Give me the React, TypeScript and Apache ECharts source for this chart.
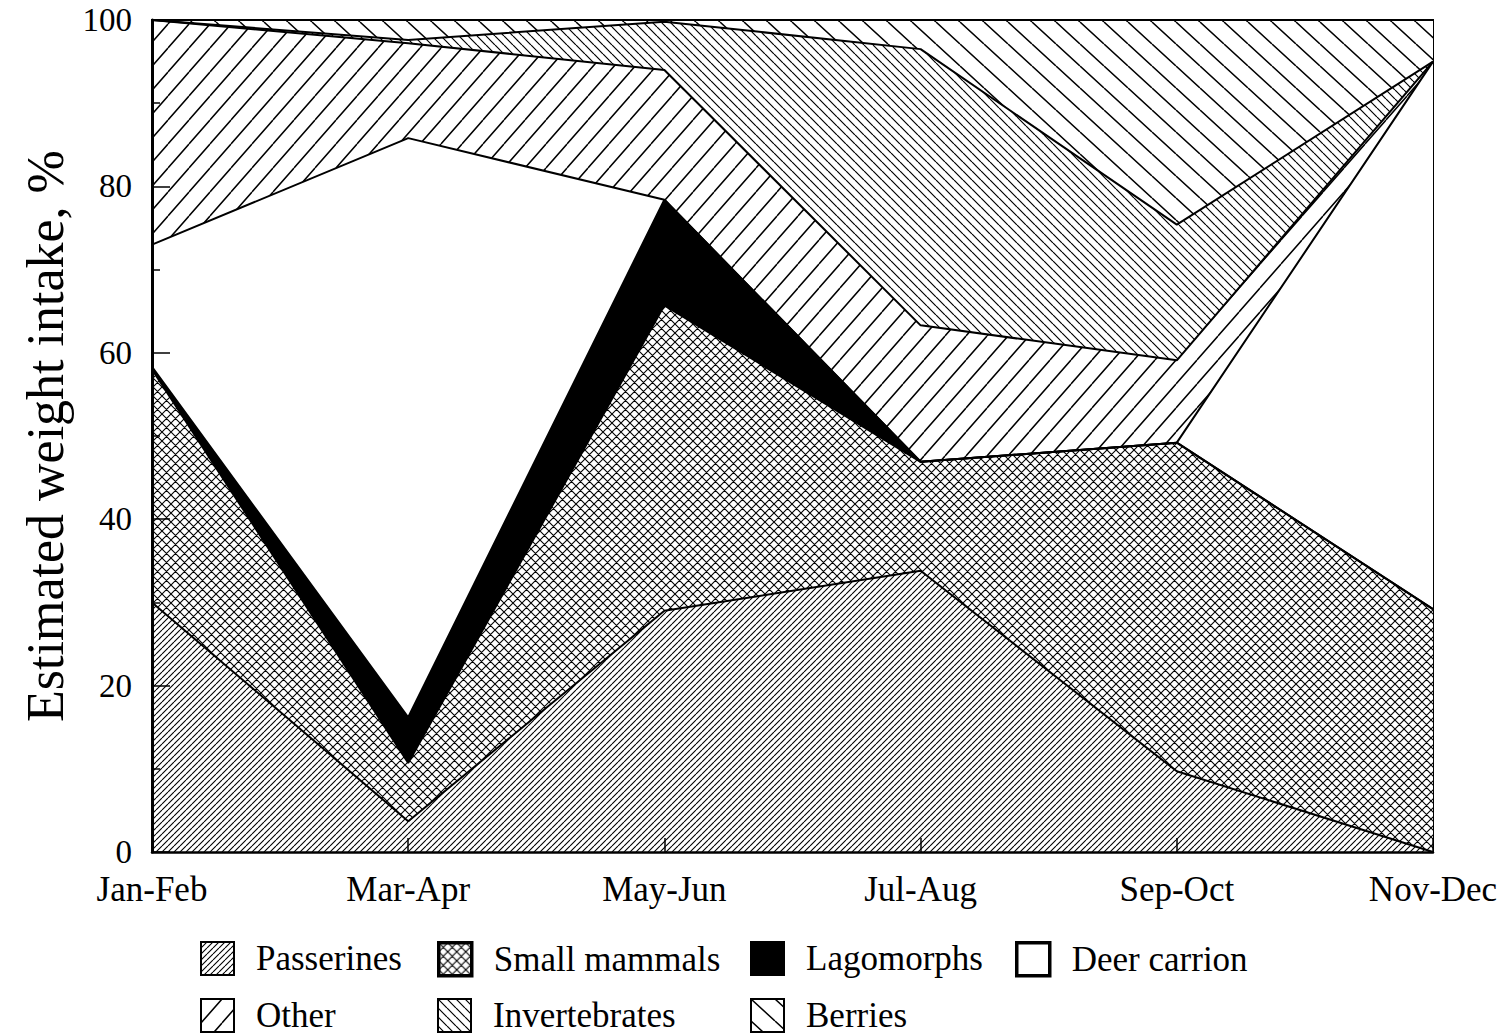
import React, { useEffect, useRef } from "react";
import * as echarts from "echarts";

const categories = ["Jan-Feb", "Mar-Apr", "May-Jun", "Jul-Aug", "Sep-Oct", "Nov-Dec"];
const seriesNames = ["Passerines", "Small mammals", "Lagomorphs", "Deer carrion", "Other", "Invertebrates", "Berries"];
const passerines = [30, 3.7, 29, 33.8, 9.7, 0];
const smallMammals = [28, 7, 36.7, 13.1, 39.5, 29.2];
const lagomorphs = [0.3, 5.5, 12.7, 0, 0, 0];
const deerCarrion = [14.7, 69.6, 0, 0, 0, 65.8];
const other = [27, 11.4, 15.6, 16.4, 9.9, 0];
const invertebrates = [0, 0.4, 5.8, 33.2, 16.3, 0];
const berries = [0, 2.4, 0.2, 3.5, 24.6, 5];
const seriesValues = [passerines, smallMammals, lagomorphs, deerCarrion, other, invertebrates, berries];
const yTicks = [0, 20, 40, 60, 80, 100];

const FONT = "'Liberation Serif', 'DejaVu Serif', serif";

function hatch(w: number, h: number, dirs: string[], lw: number) {
  const c = document.createElement("canvas");
  c.width = w;
  c.height = h;
  const ctx = c.getContext("2d")!;
  ctx.fillStyle = "#fff";
  ctx.fillRect(0, 0, w, h);
  ctx.strokeStyle = "#000";
  ctx.lineWidth = lw;
  ctx.beginPath();
  for (const d of dirs) {
    for (let k = -1; k <= 1; k++) {
      if (d === "/") {
        ctx.moveTo(k * w, h);
        ctx.lineTo(k * w + w, 0);
      } else {
        ctx.moveTo(k * w, 0);
        ctx.lineTo(k * w + w, h);
      }
    }
  }
  ctx.stroke();
  return { image: c.toDataURL(), repeat: "repeat", imageWidth: w, imageHeight: h };
}

export default function App() {
  const ref = useRef<HTMLDivElement>(null);
  useEffect(() => {
    if (!ref.current) return;
    const chart = echarts.init(ref.current, null, { renderer: "svg" });
    const fills: any[] = [
      hatch(6, 6, ["/"], 1.1),
      hatch(9, 9, ["/", "\\"], 1.1),
      "#000",
      "#fff",
      hatch(21, 24, ["/"], 1.5),
      hatch(9, 9, ["\\"], 1.2),
      hatch(24, 22, ["\\"], 1.5),
    ];
    const legendPos = [
      [200, 941],
      [437, 941],
      [750, 941],
      [1015, 941],
      [200, 998],
      [437, 998],
      [750, 998],
    ];
    const borderWidths = [2, 3.5, 2, 3.5, 2, 2, 2];
    const legends = seriesNames.map((name, i) => ({
      show: true,
      left: legendPos[i][0],
      top: legendPos[i][1],
      padding: 0,
      itemWidth: 33,
      itemHeight: 33,
      selectedMode: false,
      textStyle: { fontSize: 35, fontFamily: FONT, color: "#000", padding: [0, 0, 0, 17] },
      data: [
        {
          name,
          icon: "rect",
          itemStyle: { color: fills[i], borderColor: "#000", borderWidth: borderWidths[i] },
        },
      ],
    }));
    const areaSeries = seriesNames.map((name, i) => ({
      name,
      type: "line",
      stack: "areas",
      data: seriesValues[i],
      symbol: "none",
      showSymbol: false,
      lineStyle: { width: 0, color: "#000" },
      itemStyle: { color: fills[i] },
      areaStyle: { color: fills[i], opacity: 1 },
      z: 2,
      silent: true,
    }));
    const lineSeries = seriesNames.map((name, i) => ({
      name,
      type: "line",
      stack: "lines",
      data: seriesValues[i],
      symbol: "none",
      showSymbol: false,
      lineStyle: { width: 2, color: "#000" },
      itemStyle: { color: fills[i] },
      z: 3,
      silent: true,
    }));
    chart.setOption({
      animation: false,
      backgroundColor: "#fff",
      legend: legends,
      grid: {
        left: 152,
        right: 72,
        top: 20,
        bottom: 184,
        show: true,
        borderColor: "#000",
        borderWidth: 2,
        backgroundColor: "transparent",
      },
      xAxis: {
        type: "category",
        data: categories,
        boundaryGap: false,
        z: 10,
        axisLine: { lineStyle: { color: "#000", width: 2.5 } },
        axisTick: { inside: true, length: 14, lineStyle: { color: "#000", width: 1.5 } },
        axisLabel: { color: "#000", fontSize: 35, fontFamily: FONT, margin: 21, lineHeight: 32 },
        splitLine: { show: false },
      },
      yAxis: {
        type: "value",
        min: 0,
        max: 100,
        interval: 20,
        z: 10,
        name: "Estimated weight intake, %",
        nameLocation: "middle",
        nameGap: 76,
        nameTextStyle: { color: "#000", fontSize: 52, fontFamily: FONT },
        axisLine: { show: true, lineStyle: { color: "#000", width: 3 } },
        axisTick: { show: true, inside: true, length: 18, lineStyle: { color: "#000", width: 1.5 } },
        minorTick: { show: true, splitNumber: 2, length: 8, lineStyle: { color: "#000", width: 1.5 } },
        axisLabel: {
          color: "#000",
          fontSize: 33,
          fontFamily: FONT,
          margin: 20,
          lineHeight: 26,
          formatter: (v: number) => (yTicks.includes(v) ? String(v) : ""),
        },
        splitLine: { show: false },
      },
      series: [...areaSeries, ...lineSeries],
    });
    return () => chart.dispose();
  }, []);
  return (
    <div
      ref={ref}
      style={{ position: "fixed", left: 0, top: 0, width: 1505, height: 1036, background: "#fff" }}
    />
  );
}
